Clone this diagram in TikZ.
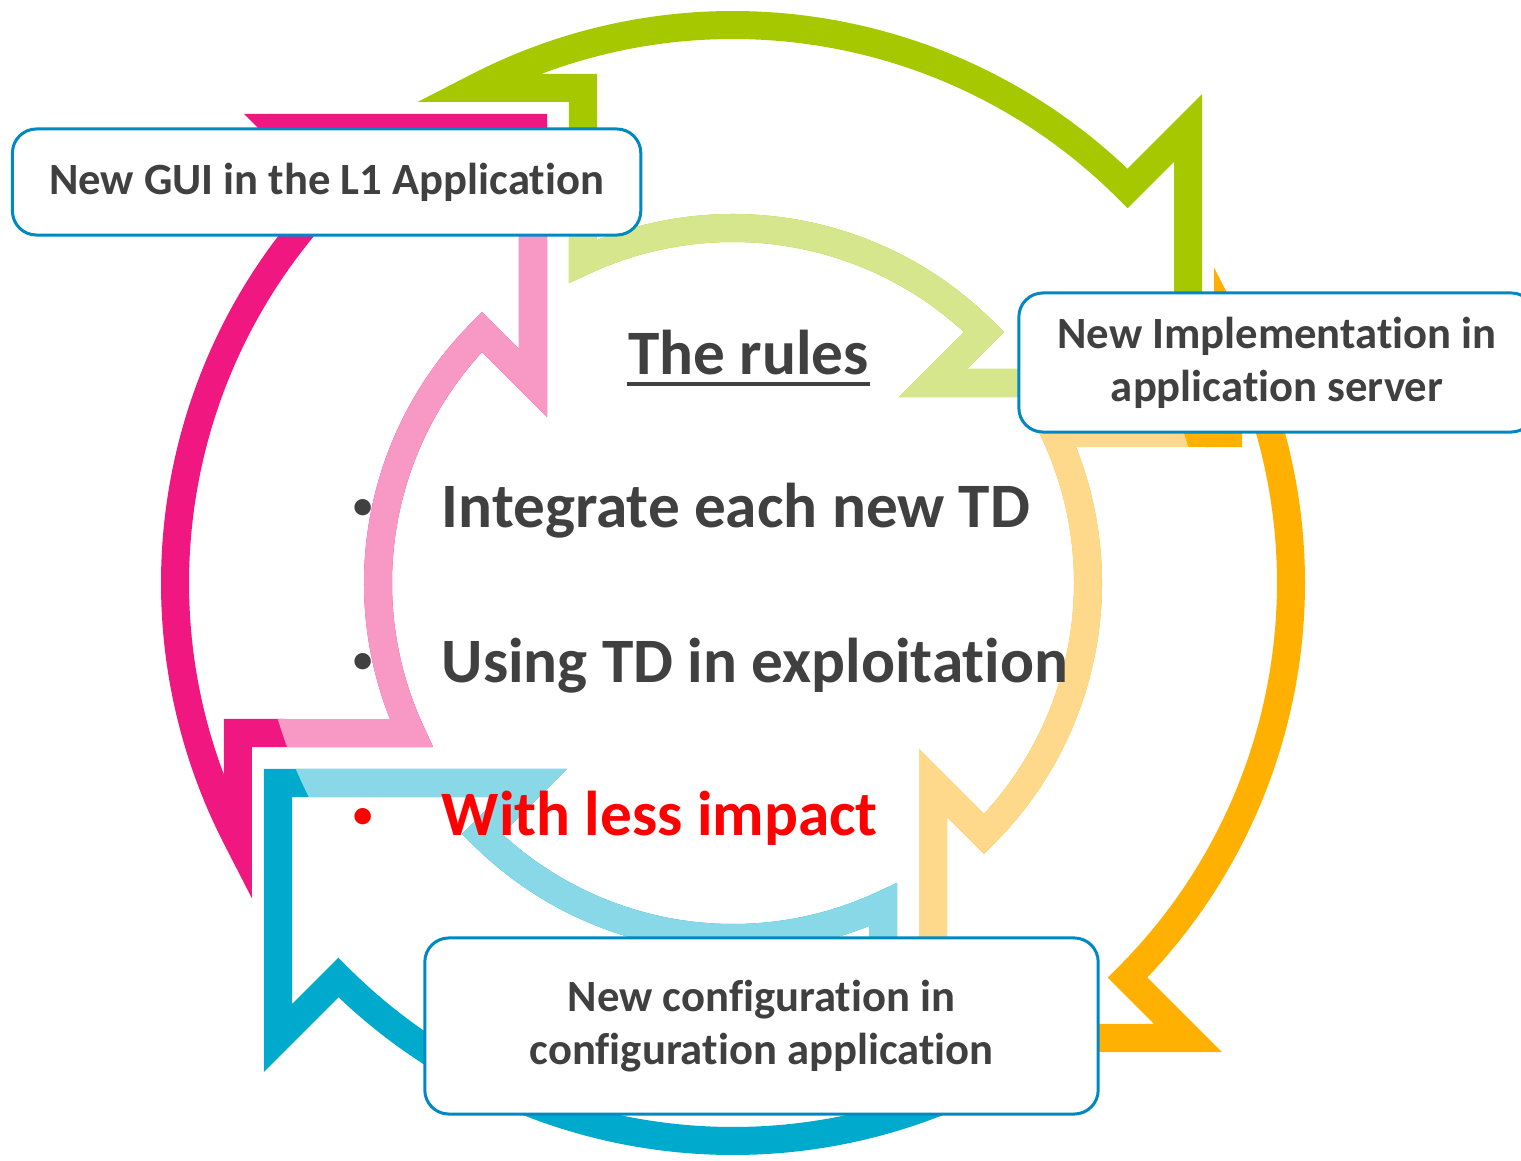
\documentclass[tikz,border=0pt]{standalone}
\usepackage{fontspec}
\setmainfont{Carlito}[Ligatures=NoCommon]
\definecolor{greenD}{RGB}{166,200,0}
\definecolor{greenL}{RGB}{214,230,140}
\definecolor{orangeD}{RGB}{255,176,0}
\definecolor{orangeL}{RGB}{254,217,140}
\definecolor{blueD}{RGB}{0,170,205}
\definecolor{blueL}{RGB}{136,216,232}
\definecolor{pinkD}{RGB}{240,24,128}
\definecolor{pinkL}{RGB}{248,152,196}
\definecolor{boxblue}{RGB}{0,136,194}
\definecolor{txtgray}{RGB}{64,64,64}
\newcommand{\cyclearrow}{(115:355) -- (-150,495.2) -- (117.45:558)
  arc[start angle=117.45,end angle=45,radius=558] -- (455,455) -- (455,200)
  -- (200,200) -- (45:355) arc[start angle=45,end angle=115,radius=355] -- cycle}
\begin{document}
\begin{tikzpicture}[x=0.01cm,y=0.01cm,
    arrowline/.style={line width=0.28cm,line join=miter,miter limit=10},
    stagebox/.style={draw=boxblue,line width=0.03cm,rounded corners=0.24cm,fill=white,
      text=txtgray,align=center,font=\bfseries\fontsize{12.7}{15.1}\selectfont},
    ruletext/.style={inner sep=0pt,text=txtgray,font=\bfseries\fontsize{18}{21}\selectfont},
    ruledot/.style={inner sep=0pt,text=txtgray,font=\bfseries\fontsize{11}{13}\selectfont}]
  \useasboundingbox (0,0) rectangle (1521,1160);
  \foreach \turn/\dark/\light in {0/greenD/greenL,-90/orangeD/orangeL,-180/blueD/blueL,-270/pinkD/pinkL}{
    \begin{scope}[shift={(733,577)},rotate=\turn]
      \draw[arrowline,draw=\dark] \cyclearrow;
      \begin{scope}
        \clip (0,0) circle[radius=475];
        \draw[arrowline,draw=\light] \cyclearrow;
      \end{scope}
    \end{scope}
  }
  \node[stagebox,minimum width=6.28cm,minimum height=1.06cm] (gui) at (326.6,978)
    {New GUI in the L1 Application};
  \node[stagebox,minimum width=5.16cm,minimum height=1.39cm] (impl) at (1277,797.5)
    {New Implementation in\\application server};
  \node[stagebox,minimum width=6.73cm,minimum height=1.76cm] (conf) at (761.5,134)
    {New configuration in\\configuration application};
  \node[ruletext,anchor=base] (rules) at (748.5,785) {The rules};
  \draw[txtgray,line width=0.045cm] ([yshift=-0.09cm]rules.base west) -- ([yshift=-0.09cm]rules.base east);
  \node[ruledot,anchor=base] (dot1) at (363,641.5) {•};
  \node[ruletext,anchor=base west] (rule1) at (441,632.5) {Integrate each new TD};
  \node[ruledot,anchor=base] (dot2) at (363,487) {•};
  \node[ruletext,anchor=base west] (rule2) at (441,478) {Using TD in exploitation};
  \node[ruledot,anchor=base,text=red] (dot3) at (363,333) {•};
  \node[ruletext,anchor=base west,text=red] (rule3) at (441,324) {With less impact};
\end{tikzpicture}
\end{document}
